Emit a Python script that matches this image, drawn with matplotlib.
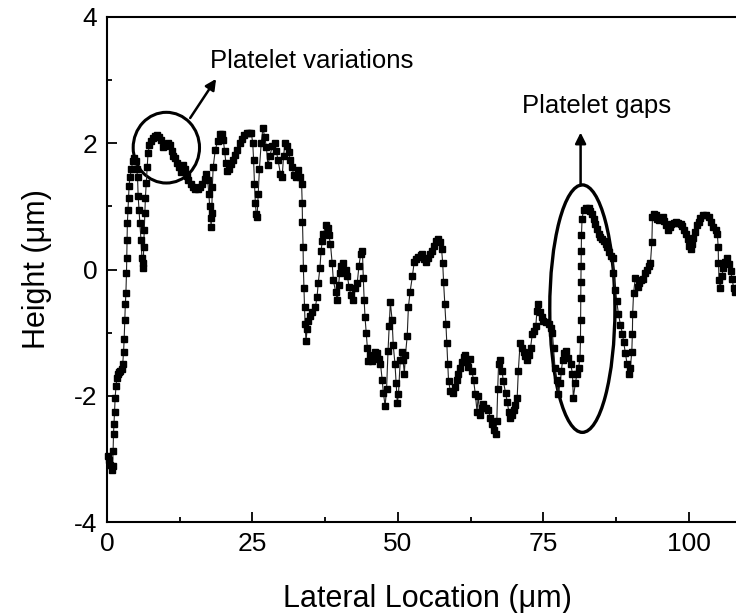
import numpy as np
import matplotlib.pyplot as plt
from matplotlib.patches import Ellipse

plt.rcParams['font.family'] = ['Liberation Sans', 'DejaVu Sans']
plt.rcParams['axes.unicode_minus'] = False

# surface profile: (lateral location um, height um)
profile = [
    (0.2, -2.95), (0.4, -3.02), (0.6, -3.1), (0.8, -3.17), (0.95, -3.12), (1.05, -2.87),
    (1.12, -2.6), (1.2, -2.45), (1.3, -2.25), (1.4, -2.03), (1.55, -1.85), (1.7, -1.72),
    (1.9, -1.66), (2.1, -1.62), (2.3, -1.6), (2.5, -1.57), (2.7, -1.5), (2.85, -1.3),
    (2.95, -1.1), (3.05, -0.8), (3.15, -0.55), (3.25, -0.37), (3.35, -0.05), (3.4, 0.19),
    (3.45, 0.46), (3.5, 0.73), (3.6, 0.94), (3.7, 1.14), (3.8, 1.33), (3.95, 1.46),
    (4.2, 1.6), (4.45, 1.72), (4.7, 1.76), (4.9, 1.72), (5.1, 1.6), (5.25, 1.46),
    (5.35, 1.17), (5.5, 0.94), (5.65, 0.73), (5.85, 0.46), (6.0, 0.19), (6.15, 0.03),
    (6.25, 0.1), (6.3, 0.35), (6.4, 0.62), (6.5, 0.89), (6.6, 1.14), (6.75, 1.37),
    (6.9, 1.62), (7.05, 1.84), (7.3, 1.97), (7.6, 2.03), (7.9, 2.08), (8.3, 2.12),
    (8.6, 2.13), (8.9, 2.1), (9.2, 2.05), (9.6, 1.94), (10.0, 1.96), (10.4, 2.0),
    (10.8, 1.98), (11.1, 1.88), (11.4, 1.8), (11.7, 1.76), (12.0, 1.69), (12.3, 1.62),
    (12.7, 1.54), (13.0, 1.65), (13.4, 1.6), (13.7, 1.48), (14.0, 1.42), (14.4, 1.35),
    (14.8, 1.31), (15.2, 1.27), (15.6, 1.27), (16.0, 1.3), (16.4, 1.36), (16.8, 1.44),
    (17.1, 1.52), (17.3, 1.42), (17.5, 1.2), (17.65, 1.0), (17.8, 0.82), (17.9, 0.67),
    (18.0, 0.9), (18.1, 1.3), (18.25, 1.62), (18.6, 1.89), (19.0, 2.03), (19.4, 2.15),
    (19.7, 2.15), (20.0, 2.05), (20.2, 1.88), (20.45, 1.68), (20.7, 1.56), (21.0, 1.6),
    (21.3, 1.67), (21.6, 1.74), (22.0, 1.82), (22.4, 1.9), (22.8, 2.0), (23.2, 2.07),
    (23.6, 2.13), (24.0, 2.16), (24.4, 2.17), (24.8, 2.17), (25.05, 2.0), (25.2, 1.73),
    (25.35, 1.35), (25.5, 1.05), (25.65, 0.88), (25.8, 0.83), (26.0, 1.2), (26.2, 1.6),
    (26.5, 2.0), (26.8, 2.24), (27.1, 2.1), (27.4, 1.94), (27.65, 1.65), (28.0, 1.8),
    (28.4, 1.95), (28.8, 2.0), (29.1, 1.88), (29.4, 1.73), (29.8, 1.52), (30.1, 1.46),
    (30.35, 1.8), (30.6, 2.0), (30.9, 1.95), (31.2, 1.86), (31.5, 1.74), (31.8, 1.62),
    (32.1, 1.5), (32.4, 1.47), (32.8, 1.57), (33.2, 1.47), (33.45, 1.35), (33.55, 1.05),
    (33.6, 0.75), (33.7, 0.35), (33.75, 0.03), (33.85, -0.29), (33.95, -0.6), (34.05, -0.86),
    (34.2, -1.13), (34.4, -0.95), (34.6, -0.81), (34.9, -0.74), (35.3, -0.68), (35.8, -0.6),
    (36.1, -0.44), (36.3, -0.22), (36.6, 0.03), (36.8, 0.3), (37.0, 0.45), (37.2, 0.57),
    (37.6, 0.7), (37.9, 0.66), (38.1, 0.55), (38.4, 0.41), (38.7, 0.1), (38.9, -0.17),
    (39.3, -0.35), (39.6, -0.49), (39.8, -0.25), (40.0, -0.05), (40.3, 0.05), (40.6, 0.1),
    (41.0, 0.0), (41.3, -0.1), (41.6, -0.27), (41.9, -0.4), (42.3, -0.49), (42.7, -0.3),
    (43.0, -0.22), (43.3, 0.05), (43.6, 0.25), (43.9, 0.3), (44.05, -0.13), (44.2, -0.49),
    (44.35, -0.76), (44.55, -1.0), (44.75, -1.24), (44.9, -1.45), (45.2, -1.35), (45.5, -1.45),
    (45.75, -1.4), (46.1, -1.3), (46.4, -1.32), (46.7, -1.42), (47.0, -1.49), (47.3, -1.75),
    (47.5, -1.95), (47.8, -2.16), (48.05, -1.9), (48.3, -1.29), (48.5, -0.9), (48.7, -0.52),
    (49.0, -0.8), (49.2, -1.2), (49.5, -1.5), (49.7, -1.8), (49.9, -2.12), (50.1, -1.97),
    (50.4, -1.44), (50.7, -1.3), (50.9, -1.44), (51.1, -1.65), (51.3, -1.35), (51.6, -1.05),
    (51.8, -0.6), (52.1, -0.35), (52.5, -0.1), (52.8, 0.12), (53.1, 0.17), (53.5, 0.2),
    (53.9, 0.23), (54.2, 0.25), (54.5, 0.16), (54.8, 0.12), (55.2, 0.19), (55.6, 0.25),
    (55.9, 0.3), (56.2, 0.38), (56.5, 0.45), (56.9, 0.49), (57.2, 0.44), (57.5, 0.33),
    (57.7, 0.1), (57.85, -0.2), (58.05, -0.54), (58.25, -0.86), (58.4, -1.17), (58.55, -1.5),
    (58.7, -1.76), (59.0, -1.92), (59.4, -1.95), (59.8, -1.86), (60.1, -1.75), (60.4, -1.65),
    (60.7, -1.56), (61.0, -1.47), (61.3, -1.38), (61.6, -1.35), (61.9, -1.45), (62.1, -1.55),
    (62.4, -1.42), (62.7, -1.6), (63.0, -1.75), (63.3, -1.97), (63.6, -2.25), (63.8, -2.0),
    (64.1, -2.3), (64.4, -2.2), (64.7, -2.13), (65.1, -2.2), (65.5, -2.22), (65.9, -2.35),
    (66.2, -2.44), (66.5, -2.55), (66.8, -2.6), (67.0, -2.4), (67.15, -1.9), (67.3, -1.5),
    (67.6, -1.44), (67.9, -1.6), (68.1, -1.76), (68.5, -1.95), (68.8, -2.1), (69.05, -2.25),
    (69.3, -2.35), (69.6, -2.3), (69.9, -2.22), (70.2, -2.15), (70.5, -2.03), (70.7, -1.6),
    (71.0, -1.17), (71.3, -1.25), (71.6, -1.3), (71.9, -1.37), (72.2, -1.44), (72.5, -1.35),
    (72.8, -1.24), (73.1, -1.02), (73.4, -0.97), (73.7, -0.9), (73.9, -0.65), (74.1, -0.54),
    (74.4, -0.68), (74.7, -0.76), (75.0, -0.81), (75.4, -0.83), (75.9, -0.86), (76.3, -0.92),
    (76.55, -1.0), (76.75, -1.24), (77.0, -1.56), (77.3, -1.75), (77.55, -1.97), (77.9, -1.8),
    (78.1, -1.6), (78.3, -1.44), (78.6, -1.33), (78.9, -1.29), (79.3, -1.4), (79.7, -1.5),
    (80.0, -1.65), (80.15, -2.03), (80.5, -1.8), (80.8, -1.65), (81.05, -1.56), (81.3, -1.4),
    (81.38, -1.1), (81.4, -0.8), (81.42, -0.45), (81.45, -0.2), (81.48, 0.05), (81.5, 0.3),
    (81.55, 0.55), (81.65, 0.8), (81.9, 0.94), (82.3, 0.98), (82.8, 0.97), (83.1, 0.93),
    (83.4, 0.88), (83.7, 0.8), (83.95, 0.72), (84.2, 0.64), (84.5, 0.57), (84.8, 0.52),
    (85.1, 0.49), (85.4, 0.45), (85.7, 0.41), (86.0, 0.35), (86.3, 0.28), (86.6, 0.22),
    (86.9, 0.19), (87.05, -0.05), (87.35, -0.33), (87.6, -0.5), (87.9, -0.7), (88.25, -0.88),
    (88.6, -1.02), (88.8, -1.15), (89.1, -1.33), (89.4, -1.5), (89.65, -1.65), (89.95, -1.56),
    (90.2, -1.3), (90.3, -1.02), (90.35, -0.7), (90.5, -0.38), (90.8, -0.13), (91.2, -0.27),
    (91.5, -0.22), (91.8, -0.17), (92.1, -0.15), (92.5, -0.06), (92.8, 0.0), (93.1, 0.05),
    (93.4, 0.1), (93.65, 0.43), (93.75, 0.83), (94.0, 0.88), (94.3, 0.87), (94.6, 0.8),
    (94.9, 0.78), (95.2, 0.81), (95.5, 0.83), (95.8, 0.77), (96.1, 0.7), (96.4, 0.63),
    (96.7, 0.67), (97.0, 0.72), (97.4, 0.74), (97.8, 0.75), (98.2, 0.74), (98.6, 0.72),
    (98.9, 0.69), (99.2, 0.63), (99.5, 0.57), (99.8, 0.49), (100.05, 0.38), (100.3, 0.33),
    (100.55, 0.4), (100.8, 0.5), (101.1, 0.6), (101.4, 0.7), (101.7, 0.76), (102.0, 0.81),
    (102.5, 0.86), (102.9, 0.86), (103.4, 0.83), (103.8, 0.76), (104.2, 0.67), (104.6, 0.62),
    (104.9, 0.57), (105.05, 0.35), (105.1, 0.1), (105.2, -0.17), (105.4, -0.29), (105.7, -0.1),
    (105.95, 0.03), (106.3, 0.12), (106.6, 0.19), (106.9, 0.08), (107.2, -0.02), (107.45, -0.15),
    (107.7, -0.29), (108.0, -0.35), (108.4, -0.3),
]
lateral, height = np.array(profile).T

x_ticks = [0, 25, 50, 75, 100]
y_ticks = [-4, -2, 0, 2, 4]

fig = plt.figure(figsize=(7.36, 6.13), dpi=100)
# axes runs off the right edge like the original crop
ax = fig.add_axes([107 / 736, 91 / 613, 640 / 736, 505 / 613])

ax.plot(lateral, height, color='#222222', lw=0.8, marker='s', ms=5,
        mec='black', mfc='black', clip_on=False)

ax.set_xlim(0, 110)
ax.set_ylim(-4, 4)
ax.set_xticks(x_ticks)
ax.set_yticks(y_ticks)
ax.set_xticks(np.arange(12.5, 110, 25), minor=True)
ax.set_yticks(np.arange(-3, 4, 2), minor=True)
ax.tick_params(which='both', direction='in', width=1.3, labelsize=19)
ax.tick_params(which='major', length=7)
ax.tick_params(which='minor', length=3.5)
ax.tick_params(axis='x', pad=7)
ax.tick_params(axis='y', pad=7)
for s in ax.spines.values():
    s.set_linewidth(1.5)

ax.set_xlabel('Lateral Location (\u03bcm)', fontsize=22, labelpad=20)
ax.set_ylabel('Height (\u03bcm)', fontsize=22, labelpad=16)

# annotations
ax.add_patch(Ellipse((10.2, 1.93), 11.4, 1.12, fill=False, lw=2.2, ec='black'))
ax.add_patch(Ellipse((81.7, -0.62), 11.2, 3.92, fill=False, lw=2.4, ec='black'))
ax.annotate('', xy=(18.75, 3.02), xytext=(14.3, 2.4),
            arrowprops=dict(arrowstyle='-|>', lw=1.8, color='black', mutation_scale=16,
                            shrinkA=0, shrinkB=0))
ax.annotate('', xy=(81.4, 2.17), xytext=(81.4, 1.33),
            arrowprops=dict(arrowstyle='-|>', lw=1.8, color='black', mutation_scale=16,
                            shrinkA=0, shrinkB=0))
ax.text(17.7, 3.2, 'Platelet variations', fontsize=18.5, va='baseline')
ax.text(71.4, 2.48, 'Platelet gaps', fontsize=18.5, va='baseline')

fig.savefig('out.png', dpi=100)
